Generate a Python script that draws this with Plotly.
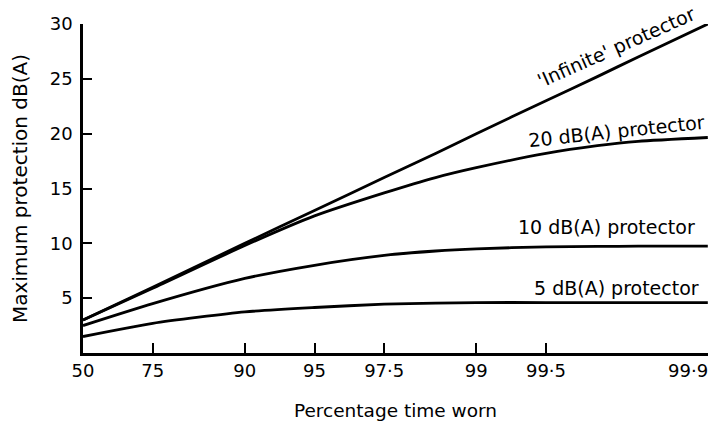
import math
import plotly.graph_objects as go

# Percentage time worn: tick categories
tick_pct = [50, 75, 90, 95, 97.5, 99, 99.5, 99.9]
tick_labels = ["50", "75", "90", "95", "97·5", "99", "99·5", "99·9"]

# Sample points (percentage time worn) at which values were read
pct_worn = [50, 75, 90, 95, 97.5, 98.5, 99, 99.5, 99.7, 99.8, 99.9]

# Maximum protection dB(A)
infinite = [3.0, 6.0, 10.0, 13.0, 16.0, 18.2, 20.0, 23.0, 25.2, 27.0, 30.0]
p20 = [3.0, 5.9, 9.8, 12.5, 14.6, 16.0, 16.9, 18.2, 18.9, 19.3, 19.65]
p10 = [2.5, 4.5, 6.8, 8.0, 8.9, 9.3, 9.5, 9.68, 9.72, 9.74, 9.75]
p5 = [1.5, 2.7, 3.75, 4.15, 4.45, 4.55, 4.6, 4.6, 4.6, 4.6, 4.6]

series = [
    ("'Infinite' protector", infinite),
    ("20 dB(A) protector", p20),
    ("10 dB(A) protector", p10),
    ("5 dB(A) protector", p5),
]

# x positions: time not worn (100 - %) on a reversed log scale
x_not_worn = [round(100 - p, 4) for p in pct_worn]
x_ticks = [round(100 - p, 4) for p in tick_pct]

FONT = "DejaVu Sans"

fig = go.Figure()
for name, vals in series:
    fig.add_trace(go.Scatter(
        x=x_not_worn, y=vals, mode="lines", name=name,
        line=dict(color="black", width=2.8, shape="spline", smoothing=0.6),
        showlegend=False, hoverinfo="skip", cliponaxis=False,
    ))

labels = [
    ("'Infinite' protector", 0.853, 0.930, -24),
    ("20 dB(A) protector", 0.853, 0.675, -6),
    ("10 dB(A) protector", 0.837, 0.383, 0),
    ("5 dB(A) protector", 0.853, 0.198, 0),
]
for text, ax, ay, ang in labels:
    fig.add_annotation(
        x=ax, y=ay, xref="paper", yref="paper", text=text, showarrow=False,
        textangle=ang, xanchor="center", yanchor="middle",
        font=dict(family=FONT, size=19, color="black"),
    )

# last tick label sits left of its tick (as in the original), so it is drawn
# as an annotation anchored at that tick on the axis
tick_text_shown = tick_labels[:-1] + [""]
fig.add_annotation(
    x=math.log10(x_ticks[-1]), xref="x", y=0, yref="paper",
    text=tick_labels[-1], showarrow=False, xanchor="right", yanchor="top",
    xshift=2, yshift=-5,
    font=dict(family=FONT, size=18, color="black"),
)

fig.update_layout(
    width=721, height=421,
    margin=dict(l=83, r=13, t=24, b=68),
    paper_bgcolor="white", plot_bgcolor="white",
    font=dict(family=FONT, size=18, color="black"),
    xaxis=dict(
        type="log", range=[1.69897, -1.0008], automargin=False,
        tickmode="array", tickvals=x_ticks, ticktext=tick_text_shown,
        ticks="inside", ticklen=10, tickwidth=2, tickcolor="black",
        showline=True, linecolor="black", linewidth=2.5,
        showgrid=False, zeroline=False,
        tickfont=dict(family=FONT, size=18, color="black"),
        title=dict(text="Percentage time worn", standoff=30,
                   font=dict(family=FONT, size=18.5, color="black")),
    ),
    yaxis=dict(
        range=[0, 30], automargin=False,
        tickmode="array", tickvals=[5, 10, 15, 20, 25, 30],
        ticks="inside", ticklen=9, tickwidth=2, tickcolor="black",
        showline=True, linecolor="black", linewidth=2.5,
        showgrid=False, zeroline=False,
        ticklabelstandoff=4,
        tickfont=dict(family=FONT, size=18, color="black"),
        title=dict(text="Maximum protection dB(A)", standoff=17,
                   font=dict(family=FONT, size=20, color="black")),
    ),
)

fig.write_html("out.html")
